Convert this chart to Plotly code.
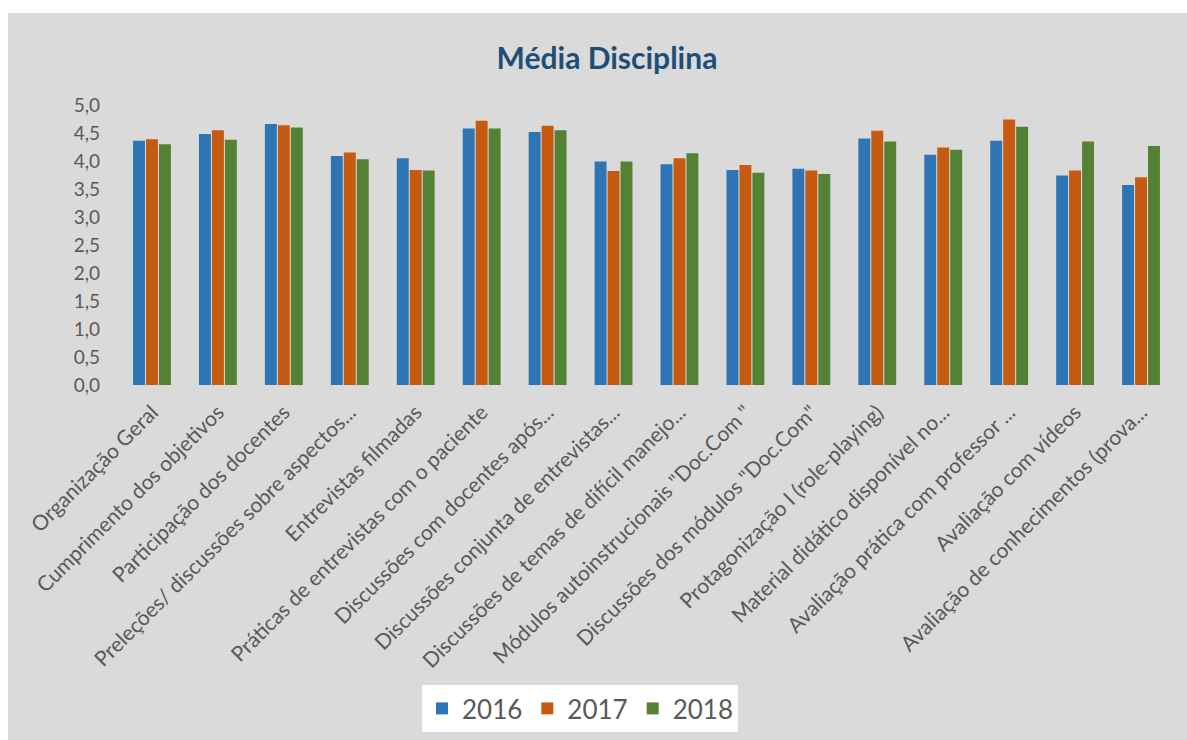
import plotly.graph_objects as go

# Itens avaliados da disciplina
categorias = [
    "Organização Geral",
    "Cumprimento dos objetivos",
    "Participação dos docentes",
    "Preleções/ discussões sobre aspectos...",
    "Entrevistas filmadas",
    "Práticas de entrevistas com o paciente",
    "Discussões com docentes após...",
    "Discussões conjunta de entrevistas...",
    "Discussões de temas de difícil manejo...",
    "Módulos autoinstrucionais \"Doc.Com \"",
    "Discussões dos módulos \"Doc.Com\"",
    "Protagonização I (role-playing)",
    "Material didático disponível no...",
    "Avaliação prática com professor ...",
    "Avaliação com vídeos",
    "Avaliação de conhecimentos (prova...",
]

# Médias por ano
media_2016 = [4.36, 4.48, 4.66, 4.09, 4.05, 4.58, 4.52, 3.99, 3.94, 3.84, 3.86, 4.40, 4.11, 4.36, 3.74, 3.57]
media_2017 = [4.39, 4.55, 4.64, 4.15, 3.84, 4.72, 4.63, 3.82, 4.05, 3.93, 3.83, 4.54, 4.24, 4.74, 3.83, 3.71]
media_2018 = [4.30, 4.38, 4.60, 4.03, 3.83, 4.58, 4.55, 3.99, 4.14, 3.79, 3.77, 4.35, 4.20, 4.61, 4.35, 4.27]

anos = ["2016", "2017", "2018"]
cores = ["#2e75b6", "#c55a11", "#548235"]
series = [media_2016, media_2017, media_2018]

W, H = 1187, 740
FONT = "Lato"
CINZA_TXT = "#595959"
FUNDO = "#dadada"

fig = go.Figure()
for ano, cor, vals in zip(anos, cores, series):
    fig.add_trace(go.Bar(
        x=categorias, y=vals, name=ano,
        marker=dict(color=cor, line=dict(width=0)),
    ))

# Faixas brancas nas bordas superior e esquerda
ml, mr, mt, mb = 119, 13, 105, 355
pw = W - ml - mr
ph = H - mt - mb
def px_x(p):
    return (p - ml) / pw
def px_y(p):
    return 1 - (p - mt) / ph

shapes = [
    dict(type="rect", xref="paper", yref="paper", layer="above",
         x0=px_x(0), x1=px_x(W), y0=px_y(13), y1=px_y(0),
         fillcolor="white", line=dict(width=0)),
    dict(type="rect", xref="paper", yref="paper", layer="above",
         x0=px_x(0), x1=px_x(8), y0=px_y(H), y1=px_y(0),
         fillcolor="white", line=dict(width=0)),
]

fig.update_layout(
    width=W, height=H,
    margin=dict(l=ml, r=mr, t=mt, b=mb, autoexpand=False),
    paper_bgcolor=FUNDO,
    plot_bgcolor=FUNDO,
    separators=",.",
    barmode="group",
    bargap=0.41,
    bargroupgap=0.08,
    font=dict(family=FONT, color=CINZA_TXT),
    title=dict(
        text="<b>Média Disciplina</b>",
        font=dict(family=FONT, size=30, color="#1f4e79"),
        x=607 / W, xref="container", xanchor="center",
        y=1 - 58 / H, yref="container", yanchor="middle",
    ),
    xaxis=dict(
        automargin=False,
        tickangle=-45,
        tickfont=dict(family=FONT, size=21, color=CINZA_TXT),
        showline=False, showgrid=False, ticks="",
        ticklabelstandoff=10,
        ticklabelshift=0,
    ),
    yaxis=dict(
        automargin=False,
        range=[0, 5], dtick=0.5, tickformat=".1f",
        tickfont=dict(family=FONT, size=19, color=CINZA_TXT),
        showgrid=False, zeroline=False, showline=False,
        ticklabelstandoff=18,
    ),
    legend=dict(
        orientation="h",
        xref="container", yref="container",
        x=580 / W, xanchor="center",
        y=1 - 685 / H, yanchor="top",
        bgcolor="white",
        font=dict(family=FONT, size=26, color=CINZA_TXT),
        itemwidth=30,
        traceorder="normal",
    ),
    shapes=shapes,
)

fig.write_html("out.html")
